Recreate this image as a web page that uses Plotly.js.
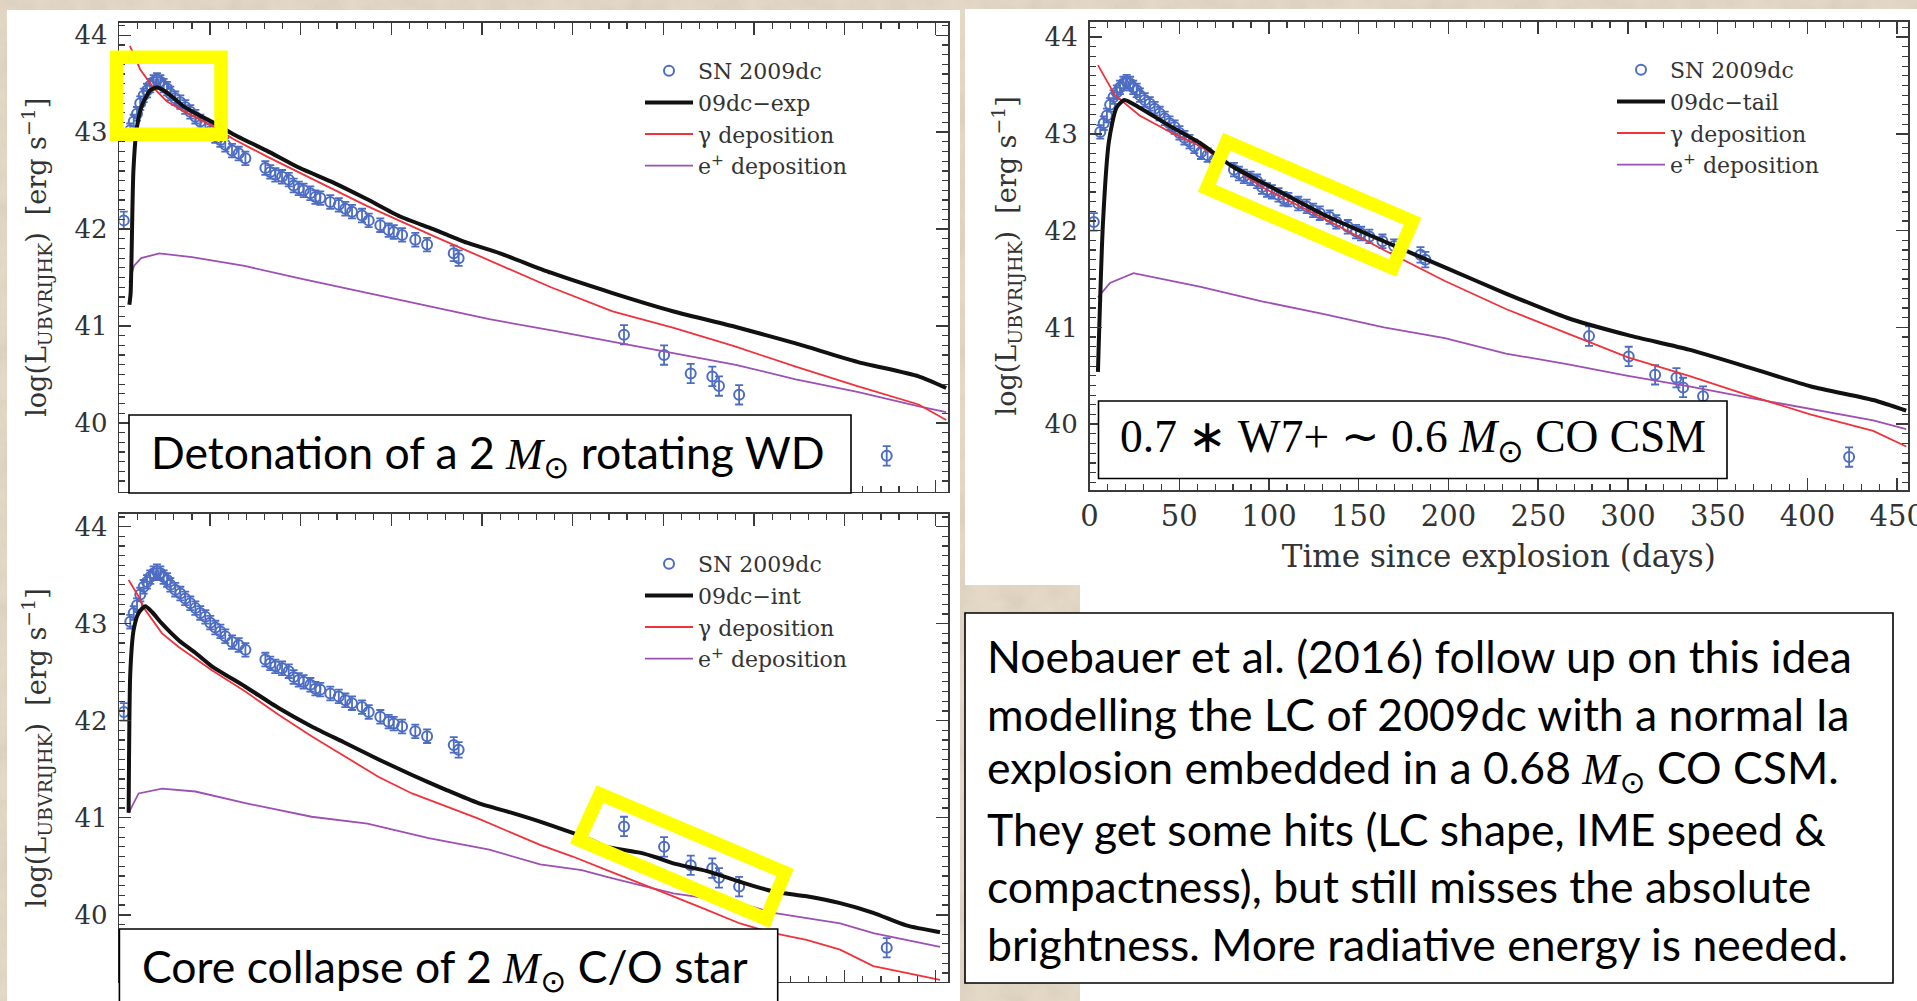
<!DOCTYPE html>
<html>
<head>
<meta charset="utf-8">
<script src="https://cdn.plot.ly/plotly-3.0.1.min.js"></script>
<style>
  html, body { margin: 0; padding: 0; }
  body {
    background-color: #e4d9c6;
    background-image: url("data:image/svg+xml;utf8,<svg xmlns='http://www.w3.org/2000/svg' width='400' height='400'><filter id='n'><feTurbulence type='fractalNoise' baseFrequency='0.035' numOctaves='4' seed='7'/><feColorMatrix values='0 0 0 0 0.62  0 0 0 0 0.55  0 0 0 0 0.44  0.9 0 0 0 -0.3'/></filter><rect width='100%' height='100%' filter='url(%23n)'/></svg>");
  }
  #chart { width: 1917px; height: 1001px; }
</style>
</head>
<body>
<div id="chart"></div>
<script>
// ---- SN 2009dc UBVRIJHK pseudo-bolometric light curve (days since explosion, log L, error) ----
const obsDays = [2.4, 6.0, 7.9, 9.7, 11.5, 13.4, 15.2, 17.0, 18.9, 20.7, 22.6, 24.4, 26.3, 28.1,
  30.8, 33.6, 36.3, 39.1, 41.9, 44.6, 47.4, 50.1, 52.9, 55.7, 58.4, 62.1, 65.8, 69.5,
  80.5, 83.2, 86.0, 89.7, 93.4, 96.1, 98.9, 101.6, 105.3, 108.1, 110.8, 116.3, 121.0,
  124.6, 128.3, 133.8, 137.5, 143.9, 148.5, 151.3, 155.9, 163.2, 169.7, 184.4, 187.1,
  278.3, 300.4, 315.1, 327.0, 330.7, 341.8, 423.2];
const obsLogL = [42.09, 43.02, 43.11, 43.19, 43.30, 43.38, 43.43, 43.48, 43.52, 43.54, 43.52, 43.48, 43.45, 43.40,
  43.35, 43.31, 43.26, 43.21, 43.16, 43.11, 43.07, 43.01, 42.96, 42.92, 42.87, 42.81, 42.78, 42.73,
  42.63, 42.59, 42.56, 42.54, 42.51, 42.45, 42.42, 42.40, 42.37, 42.33, 42.32, 42.28, 42.25,
  42.21, 42.18, 42.14, 42.09, 42.04, 41.99, 41.97, 41.94, 41.89, 41.84, 41.75, 41.70,
  40.91, 40.70, 40.51, 40.48, 40.38, 40.29, 39.66];
const obsErr = [0.09, 0.07, 0.07, 0.07, 0.07, 0.07, 0.07, 0.07, 0.07, 0.07, 0.07, 0.07, 0.07, 0.07,
  0.07, 0.07, 0.07, 0.07, 0.07, 0.07, 0.07, 0.07, 0.07, 0.07, 0.07, 0.07, 0.07, 0.07,
  0.07, 0.07, 0.07, 0.07, 0.07, 0.07, 0.07, 0.07, 0.07, 0.07, 0.07, 0.07, 0.07,
  0.07, 0.07, 0.07, 0.07, 0.07, 0.07, 0.07, 0.07, 0.07, 0.07, 0.08, 0.08,
  0.1, 0.1, 0.1, 0.1, 0.1, 0.1, 0.1];

// ---- Model 09dc-exp (detonation of a rotating WD) ----
const expTotDays = [5.5, 6.2, 7.7, 9.5, 12.3, 16.9, 20.6, 26.1, 35.2, 44.5, 51.8, 62.8, 81.2, 99.6, 118,
  136.4, 154.8, 173.1, 191.6, 209.9, 238, 272, 305.7, 340, 373, 407, 440.8, 456];
const expTotLogL = [41.22, 41.34, 42.59, 43.03, 43.27, 43.43, 43.46, 43.41, 43.27, 43.17, 43.10, 42.98, 42.81, 42.63, 42.48,
  42.31, 42.13, 42.00, 41.86, 41.75, 41.55, 41.34, 41.15, 40.99, 40.82, 40.63, 40.48, 40.36];
const expGamDays = [5.8, 11.4, 18.7, 26.1, 35.2, 51.8, 62.8, 81.2, 99.6, 136.4, 173, 204, 238, 272, 305.7,
  339.5, 373, 407, 440.8, 456];
const expGamLogL = [43.89, 43.65, 43.46, 43.32, 43.22, 43.06, 42.93, 42.75, 42.58, 42.24, 41.93, 41.68, 41.40, 41.15, 40.98,
  40.79, 40.58, 40.38, 40.19, 40.03];
const expPosDays = [5.5, 8, 12, 22, 40, 69, 100, 137, 170, 204, 240, 272, 306, 340, 373, 407, 441, 456];
const expPosLogL = [41.45, 41.62, 41.70, 41.75, 41.71, 41.62, 41.49, 41.34, 41.20, 41.07, 40.95, 40.84, 40.72, 40.60,
  40.45, 40.32, 40.17, 40.11];

// ---- Model 09dc-tail (W7 + CO CSM) ----
const tailTotDays = [4.7, 7.5, 10.8, 15, 19.4, 27.9, 44.9, 62, 79, 96, 130, 164, 198, 232, 266, 300, 334,
  368.5, 402, 436.6, 455];
const tailTotLogL = [40.54, 42.08, 42.92, 43.27, 43.35, 43.27, 43.08, 42.90, 42.67, 42.50, 42.17, 41.89, 41.62, 41.35,
  41.10, 40.92, 40.77, 40.58, 40.39, 40.25, 40.14];
const tailGamDays = [4.7, 14.2, 27.9, 44.9, 62, 79, 96, 130, 164, 198, 232, 266, 300, 334, 368.5, 402, 436.6, 455];
const tailGamLogL = [43.71, 43.40, 43.19, 43.02, 42.87, 42.67, 42.45, 42.13, 41.80, 41.48, 41.19, 40.94, 40.69, 40.50,
  40.29, 40.10, 39.93, 39.77];
const tailPosDays = [4.7, 11.4, 24.5, 62, 96, 130, 164, 198, 232, 266, 300, 334, 368.5, 402, 436.6, 455];
const tailPosLogL = [41.31, 41.46, 41.56, 41.42, 41.27, 41.14, 41.00, 40.89, 40.73, 40.62, 40.50, 40.39, 40.27, 40.16,
  40.04, 39.95];

// ---- Model 09dc-int (core collapse of a C/O star) ----
const intTotDays = [5.1, 6.0, 7.9, 10.6, 14.3, 18, 23.5, 32.7, 41.9, 51, 69.5, 87.8, 106, 124.6, 143, 161.4,
  179.8, 198, 216.5, 232, 250.4, 257.7, 268.8, 287, 296.3, 305.5, 324, 342.3, 360.7, 379, 397.5, 415.8, 434, 452.6];
const intTotLogL = [41.05, 42.49, 42.94, 43.11, 43.18, 43.12, 43.00, 42.83, 42.70, 42.56, 42.35, 42.13, 41.94, 41.77,
  41.60, 41.44, 41.29, 41.15, 41.05, 40.96, 40.84, 40.79, 40.70, 40.64, 40.59, 40.53, 40.45, 40.34, 40.24, 40.19,
  40.12, 40.02, 39.89, 39.82];
const intGamDays = [5.1, 10.6, 14.3, 23.5, 32.7, 41.9, 51, 69.5, 87.8, 106, 124.6, 143, 161.4, 179.8, 198, 232, 250,
  268.8, 287, 305.5, 324, 342.3, 360.7, 379, 397.5, 415.8, 434, 452.6];
const intGamLogL = [43.45, 43.28, 43.14, 42.90, 42.76, 42.64, 42.52, 42.30, 42.06, 41.84, 41.63, 41.42, 41.25, 41.12,
  40.99, 40.72, 40.60, 40.46, 40.33, 40.19, 40.05, 39.91, 39.81, 39.74, 39.64, 39.47, 39.40, 39.33];
const intPosDays = [5.1, 10.6, 23.5, 41.9, 69.5, 106, 136.8, 170.6, 204, 232, 255, 268.8, 305.5, 342.3, 360.7, 397.5,
  415.8, 434, 452.6];
const intPosLogL = [41.05, 41.25, 41.30, 41.27, 41.15, 41.01, 40.94, 40.79, 40.67, 40.52, 40.46, 40.39, 40.22, 40.12,
  40.02, 39.91, 39.81, 39.74, 39.67];

// ---- Text ----
const legendNames = ['SN 2009dc', '09dc\u2212exp', '09dc\u2212tail', '09dc\u2212int',
  '\u03b3 deposition', 'e<sup>+</sup> deposition'];
const yTitle = 'log(L<sub>UBVRIJHK</sub>)  [erg s<sup>\u22121</sup>]';
const xTitle = 'Time since explosion (days)';
const SUN = '<sub><span style="font-family:DejaVu Sans">\u2299</span></sub>';
const MSUN = '<span style="font-family:Liberation Serif"><i>M</i></span>' + SUN;
const labelExp = 'Detonation of a 2 ' + MSUN + ' rotating WD';
const labelTail = '0.7 \u2217 W7+ \u223c 0.6 <i>M</i>' + SUN + ' CO CSM';
const labelInt = 'Core collapse of 2 ' + MSUN + ' C/O star';
const noteLines = [
  'Noebauer et al. (2016) follow up on this idea',
  'modelling the LC of 2009dc with a normal Ia',
  'explosion embedded in a 0.68 ' + MSUN + ' CO CSM.',
  'They get some hits (LC shape, IME speed &amp;',
  'compactness), but still misses the absolute',
  'brightness. More radiative energy is needed.'
];

// ---- Styling ----
const W = 1917, H = 1001;
const px = x => x / W;
const py = y => 1 - y / H;
const BLUE = '#4d6dc3', RED = '#f0323a', PURPLE = '#9c50b4', BLACK = '#111111';
const INK = '#333333';
const SERIF = 'DejaVu Serif';

function panelTraces(xa, ya, leg, totName, totDays, totLogL, gamDays, gamLogL, posDays, posLogL) {
  return [
    { x: obsDays, y: obsLogL, xaxis: xa, yaxis: ya, legend: leg, name: legendNames[0], legendrank: 1,
      type: 'scatter', mode: 'markers',
      marker: { symbol: 'circle-open', size: 10, color: BLUE, line: { width: 2, color: BLUE } },
      error_y: { type: 'data', array: obsErr, visible: true, color: BLUE, thickness: 1.8, width: 4 } },
    { x: posDays, y: posLogL, xaxis: xa, yaxis: ya, legend: leg, name: legendNames[5], legendrank: 4,
      type: 'scatter', mode: 'lines', line: { color: PURPLE, width: 1.8 } },
    { x: gamDays, y: gamLogL, xaxis: xa, yaxis: ya, legend: leg, name: legendNames[4], legendrank: 3,
      type: 'scatter', mode: 'lines', line: { color: RED, width: 1.8 } },
    { x: totDays, y: totLogL, xaxis: xa, yaxis: ya, legend: leg, name: totName, legendrank: 2,
      type: 'scatter', mode: 'lines', line: { color: BLACK, width: 4, shape: 'spline', smoothing: 0.6 } }
  ];
}

const traces = [].concat(
  panelTraces('x', 'y', 'legend', legendNames[1], expTotDays, expTotLogL, expGamDays, expGamLogL, expPosDays, expPosLogL),
  panelTraces('x2', 'y2', 'legend2', legendNames[2], tailTotDays, tailTotLogL, tailGamDays, tailGamLogL, tailPosDays, tailPosLogL),
  panelTraces('x3', 'y3', 'legend3', legendNames[3], intTotDays, intTotLogL, intGamDays, intGamLogL, intPosDays, intPosLogL)
);

const minorStyle = { ticks: 'inside', ticklen: 6, tickwidth: 1.2, tickcolor: '#3a3a3a' };
const frame = {
  showline: true, linecolor: '#3a3a3a', linewidth: 1.6, mirror: 'ticks',
  ticks: 'inside', ticklen: 12, tickwidth: 1.5, tickcolor: '#3a3a3a',
  showgrid: false, zeroline: false, fixedrange: true, ticklabeloverflow: 'allow',
  tickfont: { family: SERIF, size: 26, color: INK }
};
function xAx(domain, range, anchor, labels) {
  return Object.assign({}, frame, {
    domain, range, anchor, dtick: 50, tick0: 0, showticklabels: labels,
    tickfont: { family: SERIF, size: 29, color: INK },
    minor: Object.assign({ dtick: 10 }, minorStyle)
  });
}
function yAx(domain, range, anchor, standoff) {
  return Object.assign({}, frame, {
    domain, range, anchor, dtick: 1, tick0: 0, ticklabelstandoff: 5,
    minor: Object.assign({ dtick: 0.1 }, minorStyle),
    title: { text: yTitle, font: { family: SERIF, size: 27, color: INK }, standoff: standoff }
  });
}

const legendBase = {
  bgcolor: 'rgba(0,0,0,0)', borderwidth: 0, xanchor: 'left', yanchor: 'top',
  font: { family: SERIF, size: 22, color: INK }, itemwidth: 48, tracegroupgap: 0,
  itemclick: false, itemdoubleclick: false
};

function boxShape(x0, y0, x1, y1) {
  return { type: 'rect', xref: 'paper', yref: 'paper', x0: px(x0), x1: px(x1), y0: py(y1), y1: py(y0),
    line: { color: '#000', width: 1.6 }, fillcolor: '#ffffff', layer: 'above' };
}
function whiteShape(x0, y0, x1, y1) {
  return { type: 'rect', xref: 'paper', yref: 'paper', x0: px(x0), x1: px(x1), y0: py(y1), y1: py(y0),
    line: { width: 0 }, fillcolor: '#ffffff', layer: 'below' };
}
function quadPath(pts) {
  return 'M' + pts.map(p => px(p[0]).toFixed(5) + ',' + py(p[1]).toFixed(5)).join(' L') + ' Z';
}
function yellow(pts) {
  return { type: 'path', xref: 'paper', yref: 'paper', path: quadPath(pts),
    line: { color: '#ffff00', width: 13.5 }, fillcolor: 'rgba(0,0,0,0)', layer: 'above' };
}

const shapes = [
  whiteShape(7, 10, 960, 1001),
  whiteShape(965, 9, 1917, 585),
  whiteShape(1080, 585, 1917, 1001),
  boxShape(129, 415, 851, 493),
  boxShape(1098.5, 401, 1727, 478.5),
  boxShape(119.4, 929, 777.7, 1012),
  boxShape(965, 613, 1893, 983),
  yellow([[116.7, 57.3], [221, 57.3], [221, 134.2], [116.7, 134.2]]),
  yellow([[1226.7, 141.7], [1412.5, 221.3], [1392.5, 268], [1206.7, 188.3]]),
  yellow([[600, 794], [785, 872.5], [766, 919], [579, 840]])
];

const boxFont = { family: 'Lato', size: 44.5, color: '#000' };
const annotations = [
  { text: labelExp, x: px(149), y: py(455), font: boxFont },
  { text: labelTail, x: px(1118), y: py(440), font: { family: 'Liberation Serif', size: 45.5, color: '#000' } },
  { text: labelInt, x: px(140), y: py(969), font: boxFont }
].concat(noteLines.map((t, i) => ({
  text: t, x: px(985), y: py([655, 713.3, 770, 828.3, 885, 943.3][i]), font: boxFont
}))).map(a => Object.assign({ xref: 'paper', yref: 'paper', xanchor: 'left', yanchor: 'middle', showarrow: false }, a));

const layout = {
  width: W, height: H, margin: { l: 0, r: 0, t: 0, b: 0 },
  paper_bgcolor: 'rgba(0,0,0,0)', plot_bgcolor: 'rgba(0,0,0,0)',
  showlegend: true,
  xaxis: xAx([px(119.4), px(948)], [0, 457], 'y', false),
  yaxis: yAx([py(491.7), py(22.7)], [39.29, 44.13], 'x', 20),
  xaxis2: Object.assign(xAx([px(1089.5), px(1908)], [0, 456], 'y2', true),
    { title: { text: xTitle, font: { family: SERIF, size: 31, color: INK }, standoff: 13 } }),
  yaxis2: yAx([py(490), py(21.6)], [39.32, 44.16], 'x2', 20),
  xaxis3: xAx([px(119.4), px(948)], [0, 457], 'y3', false),
  yaxis3: yAx([py(981.7), py(514)], [39.31, 44.13], 'x3', 20),
  // partly hidden fourth panel behind the note box
  xaxis4: Object.assign({}, frame, { domain: [px(1222), px(1907)], range: [0, 10.4], anchor: 'y4', side: 'top',
    mirror: false, dtick: 2, showticklabels: false, minor: Object.assign({ dtick: 0.5 }, minorStyle) }),
  yaxis4: Object.assign({}, frame, { domain: [0, py(602)], range: [-4.05, 0], anchor: 'x4',
    tickvals: [-4], ticktext: ['\u22124'], ticklabelstandoff: 4,
    tickfont: { family: SERIF, size: 24, color: INK },
    minor: Object.assign({ dtick: 0.1 }, minorStyle) }),
  legend: Object.assign({}, legendBase, { x: px(640), y: py(50) }),
  legend2: Object.assign({}, legendBase, { x: px(1612), y: py(49) }),
  legend3: Object.assign({}, legendBase, { x: px(640), y: py(543) }),
  shapes, annotations
};

Plotly.newPlot('chart', traces, layout, { staticPlot: true, displayModeBar: false });
</script>
</body>
</html>
